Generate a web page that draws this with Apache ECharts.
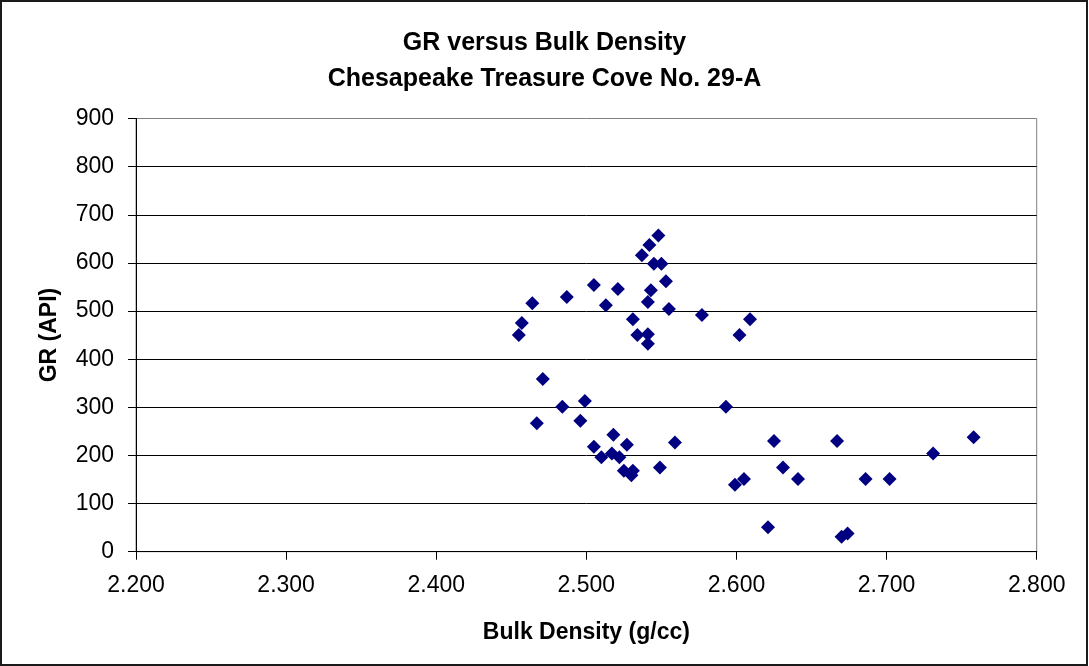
<!DOCTYPE html>
<html>
<head>
<meta charset="utf-8">
<script src="https://cdn.jsdelivr.net/npm/echarts@6/dist/echarts.min.js"></script>
<style>
html,body{margin:0;padding:0;background:#fff;}
#chart{width:1089px;height:666px;}
</style>
</head>
<body>
<div id="chart"></div>
<script>
// Data
const bulkDensity = [
  2.455, 2.457, 2.464, 2.487, 2.505, 2.513, 2.521, 2.531, 2.534, 2.541,
  2.541, 2.543, 2.541, 2.548, 2.542, 2.537, 2.545, 2.550, 2.553, 2.555,
  2.577, 2.609, 2.602,
  2.471, 2.484, 2.499, 2.467, 2.496, 2.518, 2.505, 2.527, 2.510, 2.517,
  2.522, 2.525, 2.531, 2.530, 2.549, 2.559, 2.593, 2.625, 2.599, 2.605,
  2.621, 2.631, 2.641, 2.667, 2.686, 2.702, 2.731, 2.758, 2.670, 2.674
];
const grAPI = [
  450, 475, 516, 529, 554, 512, 546, 483, 450, 452,
  432, 543, 519, 657, 637, 616, 598, 598, 562, 504,
  492, 483, 450,
  359, 301, 313, 267, 272, 243, 218, 222, 196, 204,
  196, 168, 168, 159, 175, 227, 301, 230, 139, 151,
  51, 175, 151, 230, 151, 151, 204, 238, 31, 38
];
const xTicks = {min: 2.2, max: 2.8, interval: 0.1};
const yTicks = {min: 0, max: 900, interval: 100};
const titleLines = ['GR versus Bulk Density', 'Chesapeake Treasure Cove No. 29-A'];
const xName = 'Bulk Density (g/cc)';
const yName = 'GR (API)';

const points = bulkDensity.map((d, i) => [d, grAPI[i]]);
const FONT = '"Liberation Sans", Arial, sans-serif';

const chart = echarts.init(document.getElementById('chart'), null, {renderer: 'canvas'});
chart.setOption({
  animation: false,
  backgroundColor: '#ffffff',
  graphic: [{
    type: 'rect',
    shape: {x: 1, y: 1, width: 1086, height: 664},
    style: {fill: 'none', stroke: '#1a1a1a', lineWidth: 2},
    silent: true, z: 100
  }],
  title: {
    text: titleLines.join('\n'),
    left: 'center',
    top: 20,
    textStyle: {fontFamily: FONT, fontSize: 25, fontWeight: 'bold', color: '#000', lineHeight: 36}
  },
  grid: {
    left: 136, top: 118.5, right: 52.3, bottom: 114.3,
    show: true, borderColor: '#808080', borderWidth: 1, backgroundColor: '#fff'
  },
  xAxis: {
    type: 'value',
    min: xTicks.min, max: xTicks.max, interval: xTicks.interval,
    name: xName, nameLocation: 'middle', nameGap: 69,
    nameTextStyle: {fontFamily: FONT, fontSize: 23, fontWeight: 'bold', color: '#000'},
    axisLine: {show: true, lineStyle: {color: '#000', width: 1}},
    axisTick: {show: true, inside: false, length: 8, lineStyle: {color: '#000'}},
    axisLabel: {fontFamily: FONT, fontSize: 23, color: '#000', margin: 22,
      formatter: v => v.toFixed(3)},
    splitLine: {show: false}
  },
  yAxis: {
    type: 'value',
    min: yTicks.min, max: yTicks.max, interval: yTicks.interval,
    name: yName, nameLocation: 'middle', nameGap: 75, nameRotate: 90,
    nameTextStyle: {fontFamily: FONT, fontSize: 23, fontWeight: 'bold', color: '#000'},
    axisLine: {show: true, lineStyle: {color: '#000', width: 1}},
    axisTick: {show: true, inside: false, length: 8, lineStyle: {color: '#000'}},
    axisLabel: {fontFamily: FONT, fontSize: 23, color: '#000', margin: 22},
    splitLine: {show: true, showMinLine: false, showMaxLine: false, lineStyle: {color: '#000', width: 1}}
  },
  series: [{
    type: 'scatter',
    data: points,
    symbol: 'diamond',
    symbolSize: 14,
    itemStyle: {color: '#000080', opacity: 1}
  }]
});
</script>
</body>
</html>
